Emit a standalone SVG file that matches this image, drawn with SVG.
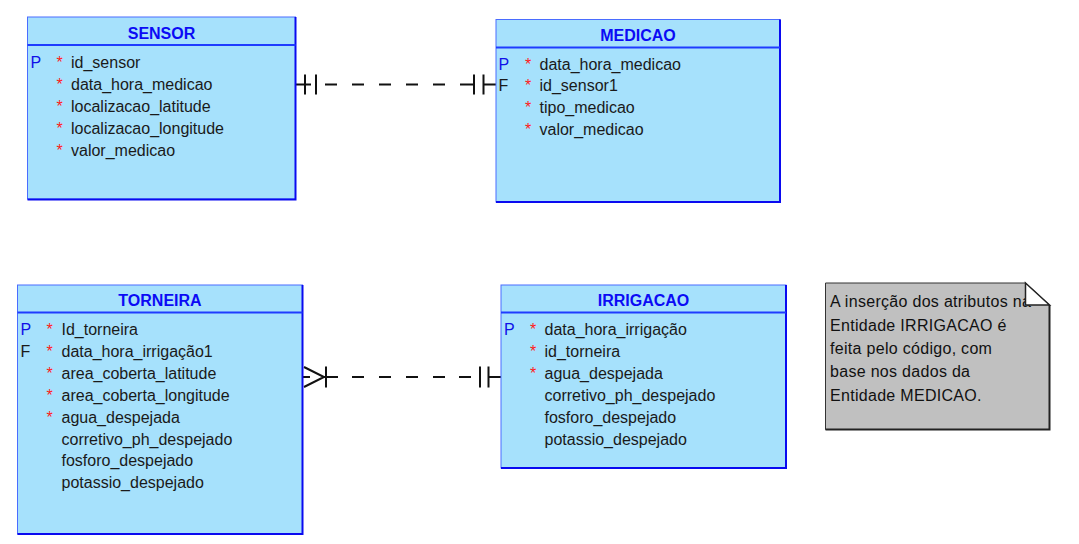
<svg xmlns="http://www.w3.org/2000/svg" width="1079" height="544" viewBox="0 0 1079 544">
<style>
.box{fill:#a6e1fc;stroke:#4a6cff;stroke-width:1}
.shd{stroke:#0a0af0;stroke-width:2;fill:none}
.hdr{stroke:#1f3cff;stroke-width:2}
.title{font-family:"Liberation Sans",Arial,sans-serif;font-size:16px;font-weight:bold;fill:#0b0bf5;text-anchor:middle}
.t{font-family:"Liberation Sans",Arial,sans-serif;font-size:16px;fill:#1a1a1a}
.p{font-family:"Liberation Sans",Arial,sans-serif;font-size:16px;fill:#1010e8}
.s{font-family:"Liberation Sans",Arial,sans-serif;font-size:16px;fill:#ff1a1a}
.c{stroke:#111;stroke-width:2;fill:none}
.note{font-family:"Liberation Sans",Arial,sans-serif;font-size:16px;fill:#111;letter-spacing:0.3px}
</style>
<g id="connectors">
<path class="c" d="M296,84.5H311M305,74.5V94.5M316,74.5V94.5M325,84.5H337M352,84.5H364M379,84.5H391M406,84.5H418M433,84.5H445M460,84.5H474M474,74.5V94.5M483.5,74.5V94.5M483.5,84.5H496"/>
<path class="c" d="M303,377H310M304,367L324,377L304,387M322,377H338M326,366.5V387.5M352,377H364M379,377H391M406,377H418M433,377H445M459,377H471M480,366.5V387.5M488.5,366.5V387.5M488.5,377H501"/>
</g>
<g id="SENSOR">
<rect class="box" x="27.5" y="17" width="268" height="182"/>
<path class="shd" d="M295.5,17V199.5H27.5"/>
<line class="hdr" x1="27.5" y1="45" x2="295.5" y2="45"/>
<text class="title" x="161.5" y="39">SENSOR</text>
<text class="p" x="30.5" y="68">P</text>
<text class="s" x="56.5" y="68">*</text><text class="t" x="71" y="68">id_sensor</text>
<text class="s" x="56.5" y="89.9">*</text><text class="t" x="71" y="89.9">data_hora_medicao</text>
<text class="s" x="56.5" y="111.8">*</text><text class="t" x="71" y="111.8">localizacao_latitude</text>
<text class="s" x="56.5" y="133.7">*</text><text class="t" x="71" y="133.7">localizacao_longitude</text>
<text class="s" x="56.5" y="155.6">*</text><text class="t" x="71" y="155.6">valor_medicao</text>
</g>
<g id="MEDICAO">
<rect class="box" x="496" y="19.5" width="284" height="182.5"/>
<path class="shd" d="M780,19.5V202H496"/>
<line class="hdr" x1="496" y1="47.5" x2="780" y2="47.5"/>
<text class="title" x="638" y="41">MEDICAO</text>
<text class="p" x="498.5" y="69.5">P</text>
<text class="s" x="525" y="69.5">*</text><text class="t" x="539.5" y="69.5">data_hora_medicao</text>
<text class="t" x="498.5" y="91.4">F</text>
<text class="s" x="525" y="91.4">*</text><text class="t" x="539.5" y="91.4">id_sensor1</text>
<text class="s" x="525" y="113.3">*</text><text class="t" x="539.5" y="113.3">tipo_medicao</text>
<text class="s" x="525" y="135.2">*</text><text class="t" x="539.5" y="135.2">valor_medicao</text>
</g>
<g id="TORNEIRA">
<rect class="box" x="17.5" y="285" width="285" height="249"/>
<path class="shd" d="M302.5,285V534H17.5"/>
<line class="hdr" x1="17.5" y1="312.5" x2="302.5" y2="312.5"/>
<text class="title" x="160" y="306">TORNEIRA</text>
<text class="p" x="20.5" y="335">P</text>
<text class="s" x="46.5" y="335">*</text><text class="t" x="61.5" y="335">Id_torneira</text>
<text class="t" x="20.5" y="356.9">F</text>
<text class="s" x="46.5" y="356.9">*</text><text class="t" x="61.5" y="356.9">data_hora_irrigação1</text>
<text class="s" x="46.5" y="378.8">*</text><text class="t" x="61.5" y="378.8">area_coberta_latitude</text>
<text class="s" x="46.5" y="400.7">*</text><text class="t" x="61.5" y="400.7">area_coberta_longitude</text>
<text class="s" x="46.5" y="422.6">*</text><text class="t" x="61.5" y="422.6">agua_despejada</text>
<text class="t" x="61.5" y="444.5">corretivo_ph_despejado</text>
<text class="t" x="61.5" y="466.4">fosforo_despejado</text>
<text class="t" x="61.5" y="488.3">potassio_despejado</text>
</g>
<g id="IRRIGACAO">
<rect class="box" x="501" y="285" width="285" height="183"/>
<path class="shd" d="M786,285V468H501"/>
<line class="hdr" x1="501" y1="312.5" x2="786" y2="312.5"/>
<text class="title" x="643.5" y="306">IRRIGACAO</text>
<text class="p" x="504" y="335">P</text>
<text class="s" x="530" y="335">*</text><text class="t" x="544.5" y="335">data_hora_irrigação</text>
<text class="s" x="530" y="356.9">*</text><text class="t" x="544.5" y="356.9">id_torneira</text>
<text class="s" x="530" y="378.8">*</text><text class="t" x="544.5" y="378.8">agua_despejada</text>
<text class="t" x="544.5" y="400.7">corretivo_ph_despejado</text>
<text class="t" x="544.5" y="422.6">fosforo_despejado</text>
<text class="t" x="544.5" y="444.5">potassio_despejado</text>
</g>
<g id="note">
<path d="M825.5,283H1025.5L1049.5,305V429.5H825.5Z" fill="#c0c0c0" stroke="#333" stroke-width="1"/>
<path d="M1049.5,305V429.5H825.5" fill="none" stroke="#222" stroke-width="2"/>
<text class="note" x="830" y="307.3">A inserção dos atributos na</text>
<text class="note" x="830" y="330.6">Entidade IRRIGACAO é</text>
<text class="note" x="830" y="354">feita pelo código, com</text>
<text class="note" x="830" y="377.3">base nos dados da</text>
<text class="note" x="830" y="400.6">Entidade MEDICAO.</text>
<path d="M1025.5,283L1049.5,305H1025.5Z" fill="#fff" stroke="#222" stroke-width="1.5" stroke-linejoin="miter"/>
</g>
</svg>
